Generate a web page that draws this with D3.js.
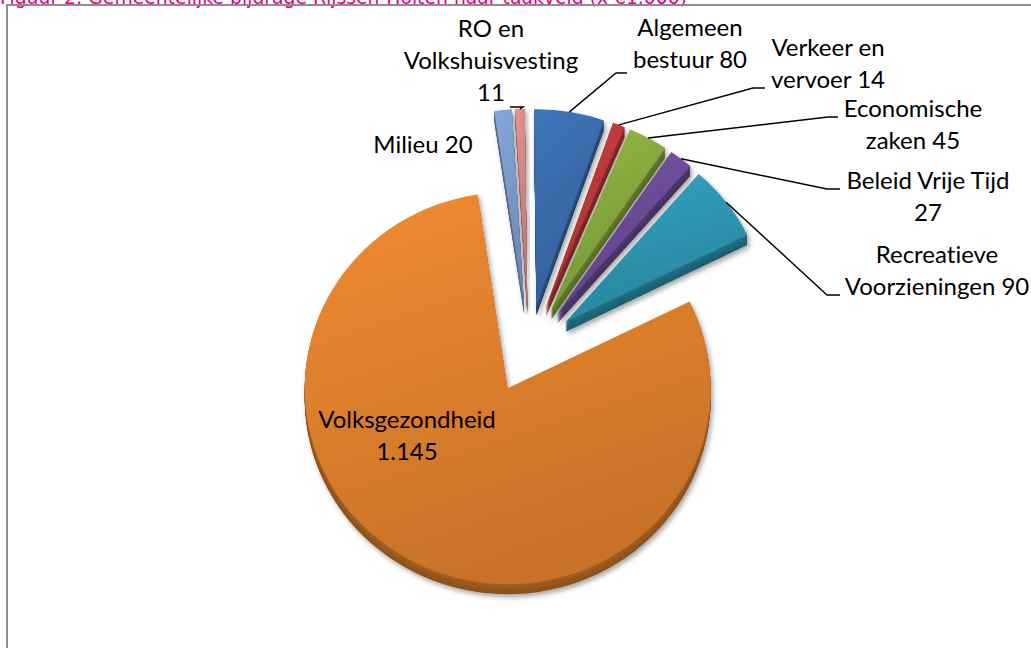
<!DOCTYPE html>
<html>
<head>
<meta charset="utf-8">
<script src="https://cdn.jsdelivr.net/npm/d3@7"></script>
<style>
	body{margin:0;background:#fff;}
	svg{display:block;}
	.lbl{font-family:Lato, "Open Sans", sans-serif;font-size:24px;fill:#000;font-variant-ligatures:none;}
	.leader{fill:none;stroke:#000;stroke-width:1.4;}
</style>
</head>
<body>
<div id="piechart"></div>
<script>
let title = "Figuur 2: Gemeentelijke bijdrage Rijssen-Holten naar taakveld (x €1.000)";
let categories = ["Milieu", "RO en Volkshuisvesting", "Algemeen bestuur", "Verkeer en vervoer", "Economische zaken", "Beleid Vrije Tijd", "Recreatieve Voorzieningen", "Volksgezondheid"];
let values = [20, 11, 80, 14, 45, 27, 90, 1145];
let colors = ["#7f9fd1", "#d98b8b", "#3c6fb2", "#bf3b3b", "#8aae3f", "#6f4f9c", "#2f9bb7", "#e5842e"];

// where excel put the labels (centre x, first baseline, words per line, leader start+knee)
let labelLayout = [
	{x:423, y:153, words:[2]},
	{x:491, y:37, words:[2,1,1], leader:[[510,107],[523,107]]},
	{x:690, y:36, words:[1,2], leader:[[627,73],[616,73]]},
	{x:828, y:56, words:[2,2], leader:[[765,88],[753,88]]},
	{x:913, y:117, words:[1,2], leader:[[838,117],[828,117]]},
	{x:928, y:189, words:[3,1], leader:[[840,189],[827,189]]},
	{x:937, y:263, words:[1,2], leader:[[840,295],[827,295]]},
	{x:407, y:428, words:[1,1]}
];

let width = 1031, height = 648;
let cx = 529, cy = 349, radius = 203, tilt = 0.965, depth = 10, explode = 46;
let lineH = 32;

let nl = d3.formatLocale({decimal:",", thousands:".", grouping:[3], currency:["€",""]});
let fmt = nl.format(",d");

let svg = d3.select("#piechart").append("svg")
	.attr("width", width)
	.attr("height", height);

let defs = svg.append("defs");
let shadow = defs.append("filter").attr("id","shadow")
	.attr("x","-20%").attr("y","-20%").attr("width","140%").attr("height","140%");
shadow.append("feDropShadow")
	.attr("dx",2).attr("dy",3).attr("stdDeviation",2.5)
	.attr("flood-color","#000").attr("flood-opacity",0.35);

colors.forEach(function(c, i){
	let g = defs.append("linearGradient").attr("id","grad"+i)
		.attr("x1",0).attr("y1",0).attr("x2",0.35).attr("y2",1);
	g.append("stop").attr("offset","0%").attr("stop-color", d3.color(c).brighter(0.15));
	g.append("stop").attr("offset","100%").attr("stop-color", d3.color(c).darker(0.4));
});

// title, mostly cut off above the page like in the source
svg.append("text")
	.attr("x", 0)
	.attr("y", 4)
	.attr("fill", "#e6007e")
	.style("font-family", "'DejaVu Sans', sans-serif")
	.style("font-size", "18.8px")
	.text(title);

svg.append("rect")
	.attr("x", 7).attr("y", 5)
	.attr("width", 1040).attr("height", 660)
	.attr("fill", "none")
	.attr("stroke", "#8e8e8e")
	.attr("stroke-width", 2);

let pie = d3.pie().sort(null).value(d => d)
	.startAngle(-8.5 * Math.PI / 180)
	.endAngle(351.5 * Math.PI / 180);
let arcs = pie(values);
let arc = d3.arc().innerRadius(0).outerRadius(radius);

function mid(a){ return (a.startAngle + a.endAngle) / 2; }
function shift(a){ return [explode * Math.sin(mid(a)), -explode * Math.cos(mid(a))]; }

let pieG = svg.append("g")
	.attr("transform", "translate(" + cx + "," + cy + ") scale(1," + tilt + ")");

let slices = pieG.selectAll("g.slice")
	.data(arcs)
	.enter().append("g")
	.attr("class", "slice")
	.attr("filter", "url(#shadow)")
	.attr("transform", d => "translate(" + shift(d)[0] + "," + shift(d)[1] + ")");

// side of the 3d slab
let steps = d3.range(depth, 0, -1);
slices.each(function(d, i){
	let s = d3.select(this);
	steps.forEach(function(k){
		s.append("path")
			.attr("d", arc(d))
			.attr("transform", "translate(0," + (k / tilt) + ")")
			.attr("fill", d3.color(colors[i]).darker(0.9 + 0.05 * k));
	});
});

slices.append("path")
	.attr("d", d => arc(d))
	.attr("fill", (d, i) => "url(#grad" + i + ")");

// leader lines
arcs.forEach(function(a, i){
	let lay = labelLayout[i];
	if(!lay.leader) return;
	let s = shift(a), m = mid(a);
	let px = cx + s[0] + radius * Math.sin(m);
	let py = cy + (s[1] - radius * Math.cos(m)) * tilt;
	let pts = lay.leader.concat([[px, py]]);
	svg.append("path").attr("class", "leader").attr("d", d3.line()(pts));
});

// labels
arcs.forEach(function(a, i){
	let lay = labelLayout[i];
	let words = (categories[i] + " " + fmt(values[i])).split(" ");
	let lines = [], w = 0;
	lay.words.forEach(function(n){
		lines.push(words.slice(w, w + n).join(" "));
		w += n;
	});
	let t = svg.append("text").attr("class", "lbl").attr("text-anchor", "middle");
	lines.forEach(function(l, j){
		t.append("tspan").attr("x", lay.x).attr("y", lay.y + j * lineH).text(l);
	});
});
</script>
</body>
</html>
